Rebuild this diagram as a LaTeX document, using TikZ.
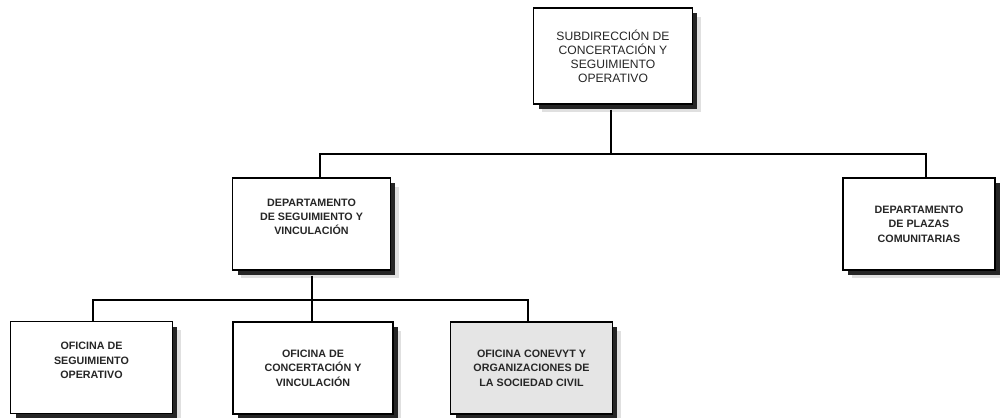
\documentclass[tikz,border=0pt]{standalone}
\usepackage{fontspec}
\setmainfont{Liberation Sans}
\usetikzlibrary{shadows,positioning}

\tikzstyle{box} = [draw, line width=0.85pt, fill=white, align=center,
    text=black!85,
    general shadow={shadow xshift=0.17cm, shadow yshift=-0.17cm, fill=black!20, opacity=0.6},
    general shadow={shadow xshift=0.1cm, shadow yshift=-0.1cm, fill=black!85}]
\tikzstyle{head} = [box, font=\fontsize{6.9}{7.9}\selectfont,
    minimum width=3.18cm, minimum height=1.92cm]
\tikzstyle{dept} = [box, font=\bfseries\fontsize{6.1}{8.2}\selectfont,
    minimum width=3.16cm, minimum height=1.84cm]
\tikzstyle{unit} = [box, font=\bfseries\fontsize{6.1}{8.2}\selectfont,
    minimum width=3.24cm, minimum height=1.84cm]
\tikzstyle{link} = [line width=0.7pt]

\begin{document}
\begin{tikzpicture}[x=0.02cm, y=-0.02cm]
\useasboundingbox (0,0) rectangle (1000,418);

% nivel 1
\node[head] (sub) at (613,56)
    {SUBDIRECCIÓN DE\\CONCERTACIÓN Y\\SEGUIMIENTO\\OPERATIVO};

% nivel 2
\node[dept] (dseg) at (311.5,224)
    {DEPARTAMENTO\\DE SEGUIMIENTO Y\\VINCULACIÓN\\\mbox{}};
\node[dept, minimum width=3.04cm] (dplz) at (919,224)
    {DEPARTAMENTO\\DE PLAZAS\\COMUNITARIAS};

% nivel 3
\node[unit] (oseg) at (91.5,367.5)
    {OFICINA DE\\SEGUIMIENTO\\OPERATIVO\\\mbox{}};
\node[unit, minimum width=3.2cm] (ocon) at (313,368)
    {OFICINA DE\\CONCERTACIÓN Y\\VINCULACIÓN};
\node[unit, fill=black!10] (ociv) at (531.5,368)
    {OFICINA CONEVYT Y\\ORGANIZACIONES DE\\LA SOCIEDAD CIVIL};

% lineas
\coordinate (bus1) at (611,154);
\coordinate (bus2) at (312,300);
\draw[link] ([yshift=-0.1cm]sub.south -| bus1) -- (bus1);
\draw[link] ([xshift=0.17cm]dseg.north) |- (bus1) -| ([xshift=0.14cm]dplz.north);
\draw[link] ([yshift=-0.1cm]dseg.south -| bus2) -- (bus2);
\draw[link] ([xshift=0.03cm]oseg.north) |- (bus2) -| ([xshift=-0.07cm]ociv.north);
\draw[link] (ocon.north -| bus2) -- (bus2);
\end{tikzpicture}
\end{document}
